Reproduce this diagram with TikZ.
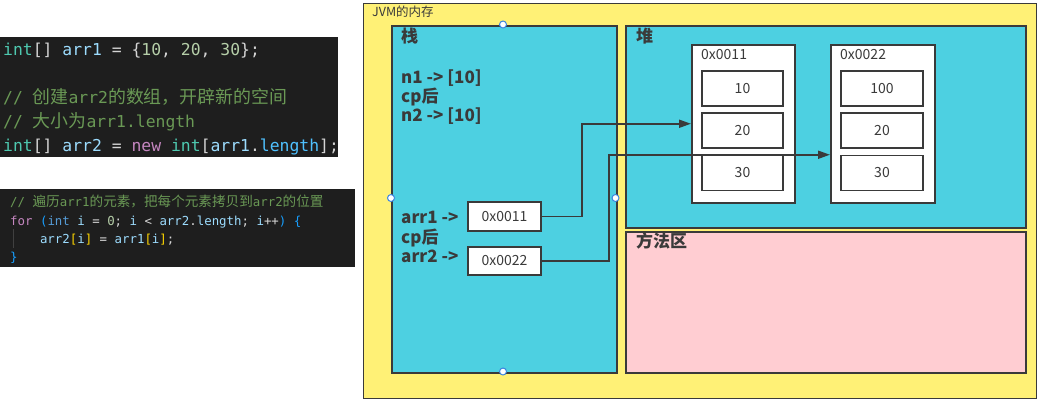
\documentclass[tikz,border=0pt]{standalone}
\usepackage{fontspec}
\setmainfont{Noto Sans CJK SC}
\newfontfamily\cjk{Noto Sans CJK SC}
\setmonofont{DejaVu Sans Mono}
\usetikzlibrary{arrows.meta}
\definecolor{codebg}{HTML}{1E1E1E}
\definecolor{ctype}{HTML}{4EC9B0}
\definecolor{cpun}{HTML}{D4D4D4}
\definecolor{cvar}{HTML}{9CDCFE}
\definecolor{cnum}{HTML}{B5CEA8}
\definecolor{ccom}{HTML}{6A9955}
\definecolor{ckw}{HTML}{C586C0}
\definecolor{cprop}{HTML}{4FC1FF}
\definecolor{cblue}{HTML}{569CD6}
\definecolor{cbr}{HTML}{179FFF}
\definecolor{cgold}{HTML}{FFD700}
\definecolor{cguide}{HTML}{404040}
\definecolor{jvmyellow}{HTML}{FFF176}
\definecolor{stackcyan}{HTML}{4DD0E1}
\definecolor{methodpink}{HTML}{FFCDD2}
\definecolor{bd}{HTML}{3A3A3A}
\definecolor{handleblue}{HTML}{3D86E0}
\newcommand\cA[1]{\textcolor{ctype}{#1}}
\newcommand\cP[1]{\textcolor{cpun}{#1}}
\newcommand\cV[1]{\textcolor{cvar}{#1}}
\newcommand\cN[1]{\textcolor{cnum}{#1}}
\newcommand\cC[1]{\textcolor{ccom}{#1}}
\newcommand\cK[1]{\textcolor{ckw}{#1}}
\newcommand\cL[1]{\textcolor{cprop}{#1}}
\newcommand\cB[1]{\textcolor{cblue}{#1}}
\newcommand\cR[1]{\textcolor{cbr}{#1}}
\newcommand\cG[1]{\textcolor{cgold}{#1}}
\newcommand\zhA[1]{{\cjk\fontsize{17.9}{24}\selectfont #1}}
\newcommand\zhB[1]{{\cjk\fontsize{13.6}{18}\selectfont #1}}
\begin{document}
\begin{tikzpicture}[x=1pt,y=-1pt,
  codeA/.style={anchor=base west,inner sep=0,font=\ttfamily\fontsize{16.4}{24}\selectfont},
  codeB/.style={anchor=base west,inner sep=0,font=\ttfamily\fontsize{12.4}{18}\selectfont},
  region/.style={draw=bd,line width=2pt,anchor=north west,inner sep=0},
  title/.style={anchor=base west,inner sep=0,font=\bfseries\fontsize{17}{19.4}\selectfont,text=bd},
  arrbox/.style={draw=bd,fill=white,line width=1.5pt,anchor=north west,inner sep=0,minimum height=158},
  cell/.style={draw=bd,fill=white,line width=1.8pt,inner sep=0,minimum height=35,font=\fontsize{14}{16}\selectfont,text=bd},
  ptr/.style={draw=bd,fill=white,line width=1.8pt,inner sep=0,minimum width=73,font=\fontsize{14}{16}\selectfont,text=bd},
  lbl/.style={anchor=base west,inner sep=0,font=\fontsize{14}{16}\selectfont,text=bd},
  handle/.style={circle,draw=handleblue,fill=white,line width=1pt,minimum size=7,inner sep=0},
  link/.style={draw=bd,line width=1.8pt,-{Triangle[length=12pt,width=8pt]}}]
\useasboundingbox (0,0) rectangle (1039,402);
\fill[white] (0,0) rectangle (1039,402);
% code block 1
\node[fill=codebg,anchor=north west,minimum width=338,minimum height=120,inner sep=0] (bg1) at (0,37) {};
\node[codeA] (l1) at (3,55) {\cA{int}\cP{[]} \cV{arr1} \cP{=} \cP{\{}\cN{10}\cP{,} \cN{20}\cP{,} \cN{30}\cP{\};}};
\node[codeA] (l2) at (3,103) {\cC{// \zhA{创建}arr2\zhA{的数组，开辟新的空间}}};
\node[codeA] (l3) at (3,127) {\cC{// \zhA{大小为}arr1.length}};
\node[codeA] (l4) at (3,151) {\cA{int}\cP{[]} \cV{arr2} \cP{=} \cK{new} \cA{int}\cP{[}\cV{arr1}\cP{.}\cL{length}\cP{];}};
% code block 2
\node[fill=codebg,anchor=north west,minimum width=355,minimum height=78,inner sep=0] (bg2) at (0,189) {};
\node[codeB] (m1) at (10,206.7) {\cC{// \zhB{遍历}arr1\zhB{的元素，把每个元素拷贝到}arr2\zhB{的位置}}};
\node[codeB] (m2) at (10,225) {\cK{for} \cR{(}\cB{int} \cV{i} \cP{=} \cN{0}\cP{;} \cV{i} \cP{<} \cV{arr2}\cP{.}\cV{length}\cP{;} \cV{i}\cP{++}\cR{)} \cR{\{}};
\node[codeB] (m3) at (39.8,243.3) {\cV{arr2}\cG{[}\cV{i}\cG{]} \cP{=} \cV{arr1}\cG{[}\cV{i}\cG{]}\cP{;}};
\node[codeB] (m4) at (10,261.7) {\cR{\}}};
\draw[cguide,line width=0.8pt] (13,229) -- (13,248);
% JVM
\node[draw=bd,fill=jvmyellow,line width=1pt,anchor=north west,minimum width=673,minimum height=395,inner sep=0] (jvm) at (362.5,3) {};
\node[anchor=base west,inner sep=0,font=\fontsize{12.5}{14}\selectfont,text=bd] (jvml) at (372,16) {JVM的内存};
% regions
\node[region,fill=stackcyan,minimum width=224.5,minimum height=347] (stack) at (391,24.5) {};
\node[region,fill=stackcyan,minimum width=400,minimum height=202] (heap) at (625,24.5) {};
\node[region,fill=methodpink,minimum width=400,minimum height=141] (method) at (625,230.5) {};
\node[title] (stackl) at (401,42) {栈};
\node[title] (heapl) at (636,42) {堆};
\node[title] (methodl) at (636,247.5) {方法区};
\node[title] (n1l) at (401,83.3) {n1 -> [10]};
\node[title] (cp1l) at (401,102.5) {cp后};
\node[title] (n2l) at (401,121.7) {n2 -> [10]};
\node[title] (a1l) at (401,223.3) {arr1 ->};
\node[title] (cp2l) at (401,243) {cp后};
\node[title] (a2l) at (401,262.7) {arr2 ->};
% pointers in stack
\node[ptr,minimum height=29] (p1) at (504.5,216.5) {0x0011};
\node[ptr,minimum height=28] (p2) at (504.5,261) {0x0022};
% heap arrays
\node[arrbox,minimum width=103] (h1) at (691,44) {};
\node[lbl] (h1l) at (701,59) {0x0011};
\node[cell,minimum width=81] (h1a) at (742.5,88.5) {10};
\node[cell,minimum width=81] (h1b) at (742.5,130.5) {20};
\node[cell,minimum width=81] (h1c) at (742.5,173) {30};
\node[arrbox,minimum width=104] (h2) at (830,44) {};
\node[lbl] (h2l) at (840,59) {0x0022};
\node[cell,minimum width=82] (h2a) at (882,88.5) {100};
\node[cell,minimum width=82] (h2b) at (882,130.5) {20};
\node[cell,minimum width=82] (h2c) at (882,173) {30};
% connectors
\draw[link] (p1.east) -- ++(40,0) |- (h1.west);
\coordinate (h2in) at ([yshift=-31pt]h2.west);
\draw[link] (p2.east) -- ++(67,0) |- (h2in);
% selection handles
\node[handle] (hd1) at (503,24.5) {};
\node[handle] (hd2) at (391,198) {};
\node[handle] (hd3) at (615.5,198) {};
\node[handle] (hd4) at (503,371.5) {};
\end{tikzpicture}
\end{document}
